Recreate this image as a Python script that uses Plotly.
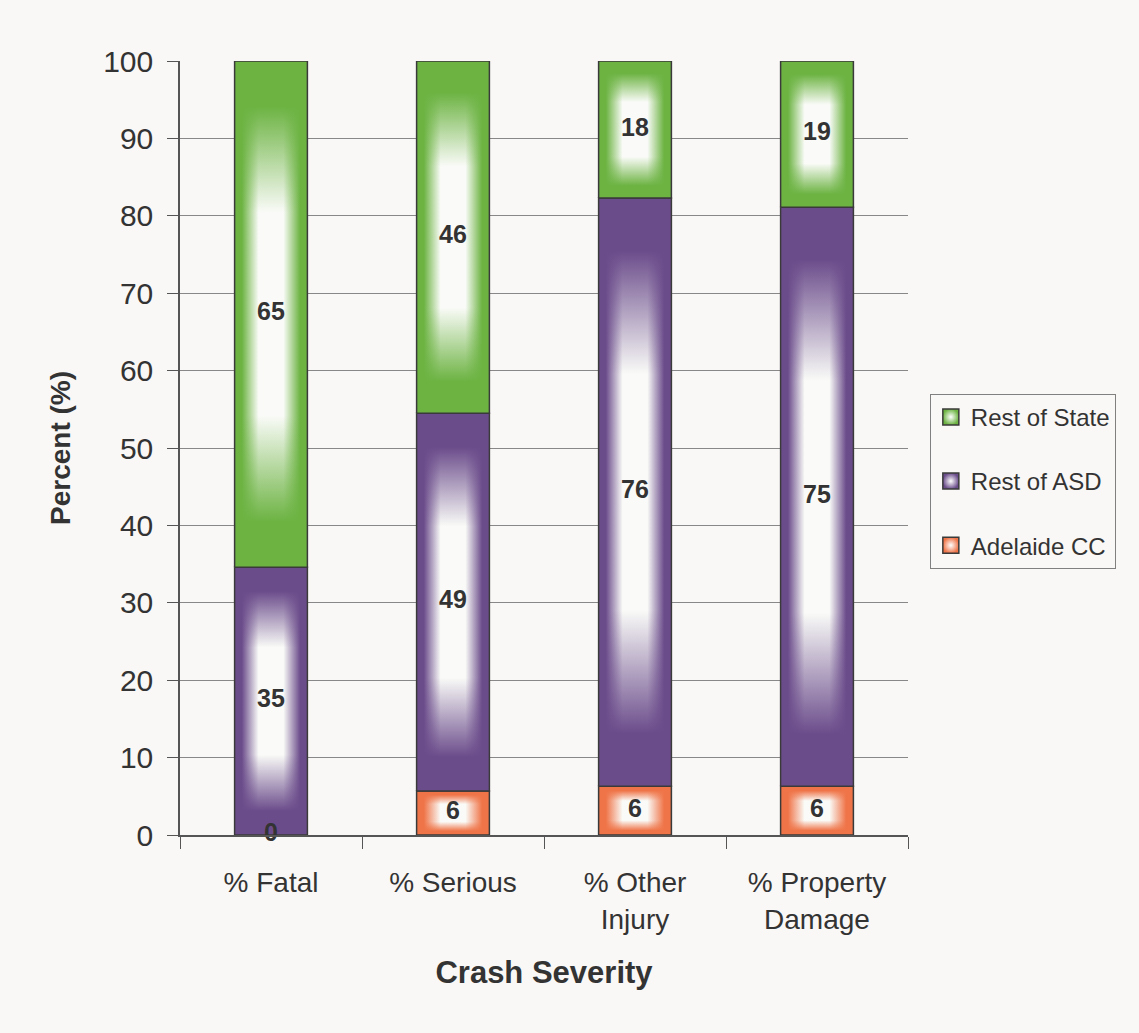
import plotly.graph_objects as go

# ---- data ----
categories = ['% Fatal', '% Serious', '% Other<br>Injury', '% Property<br>Damage']
adelaide_cc = [0.0, 5.7, 6.3, 6.3]
rest_of_asd = [34.6, 48.8, 76.0, 74.8]
rest_of_state = [65.4, 45.5, 17.7, 18.9]
series_names = ['Adelaide CC', 'Rest of ASD', 'Rest of State']
y_tick_values = [0, 10, 20, 30, 40, 50, 60, 70, 80, 90, 100]

# ---- style ----
colors = {
    'Adelaide CC': (239, 116, 72),
    'Rest of ASD': (107, 76, 139),
    'Rest of State': (108, 179, 66),
}
BG = '#f9f8f6'
TXT = '#333333'
FONT = 'Liberation Sans, Arial, sans-serif'
HALF_W = 0.2
OUTLINE = '#3a3a3a'
CENTER = 'rgba(250,251,248,1)'


def rgba(c, a):
    return f'rgba({c[0]},{c[1]},{c[2]},{a})'


fig = go.Figure()

# legend entries (small squares with centre gradient)
for name in ['Rest of State', 'Rest of ASD', 'Adelaide CC']:
    c = colors[name]
    fig.add_trace(go.Scatter(
        x=[None], y=[None], mode='markers', name=name, legendgroup=name,
        marker=dict(symbol='square', size=16, color=rgba(c, 1),
                    gradient=dict(type='radial', color='white'),
                    line=dict(color=OUTLINE, width=1.5)),
        hoverinfo='skip'))

values_by_series = [adelaide_cc, rest_of_asd, rest_of_state]
xs = list(range(len(categories)))
label_x, label_y, label_t = [], [], []

for i, xc in enumerate(xs):
    base = 0.0
    for name, vals in zip(series_names, values_by_series):
        v = vals[i]
        top = base + v
        c = colors[name]
        px = [xc - HALF_W, xc + HALF_W, xc + HALF_W, xc - HALF_W, xc - HALF_W]
        py = [base, base, top, top, base]
        # horizontal centre gradient
        fig.add_trace(go.Scatter(
            x=px, y=py, mode='lines', fill='toself', showlegend=False,
            line=dict(width=0, color=rgba(c, 0)),
            fillgradient=dict(type='horizontal', colorscale=[
                [0, rgba(c, 1)], [0.1, rgba(c, 1)], [0.33, CENTER],
                [0.67, CENTER], [0.9, rgba(c, 1)], [1, rgba(c, 1)]]),
            hoverinfo='skip'))
        # vertical centre gradient overlay + outline
        fig.add_trace(go.Scatter(
            x=px, y=py, mode='lines', fill='toself', showlegend=False,
            line=dict(width=1.5, color=OUTLINE),
            fillgradient=dict(type='vertical', colorscale=[
                [0, rgba(c, 1)], [0.09, rgba(c, 1)], [0.3, rgba(c, 0)],
                [0.7, rgba(c, 0)], [0.91, rgba(c, 1)], [1, rgba(c, 1)]]),
            hoverinfo='skip'))
        label_x.append(xc)
        label_y.append(base + v / 2)
        label_t.append(str(round(v)))
        base = top

fig.add_trace(go.Scatter(
    x=label_x, y=label_y, text=label_t, mode='text', showlegend=False,
    textposition='middle center', cliponaxis=False,
    textfont=dict(family=FONT, size=25, color=TXT, weight='bold'),
    hoverinfo='skip'))

fig.update_layout(
    width=1139, height=1033,
    margin=dict(l=180, r=231, t=61, b=198),
    paper_bgcolor=BG, plot_bgcolor=BG,
    font=dict(family=FONT, color=TXT, size=24),
    showlegend=True,
    legend=dict(
        x=1.03, xanchor='left', y=0.57, yanchor='top',
        bgcolor=BG, bordercolor='#808080', borderwidth=1,
        font=dict(family=FONT, size=24, color=TXT),
        traceorder='grouped', tracegroupgap=30,
    ),
    xaxis=dict(
        range=[-0.5, len(categories) - 0.5],
        tickmode='array', tickvals=xs, ticktext=categories,
        ticks='', ticklabelstandoff=22,
        showgrid=False, zeroline=False,
        showline=True, linecolor='#555555', linewidth=1.5,
        minor=dict(tickmode='array',
                   tickvals=[x - 0.5 for x in xs] + [xs[-1] + 0.5],
                   ticks='outside', ticklen=12, tickcolor='#555555', tickwidth=1),
        tickfont=dict(size=28, color=TXT),
        title=dict(text='Crash Severity', standoff=28,
                   font=dict(size=31, color=TXT, weight='bold')),
    ),
    yaxis=dict(
        range=[0, 100], tickmode='array', tickvals=y_tick_values,
        ticks='outside', ticklen=11, tickcolor='#555555', tickwidth=1,
        ticklabelstandoff=8,
        showgrid=True, gridcolor='#888888', gridwidth=1,
        zeroline=False,
        showline=True, linecolor='#555555', linewidth=1.5,
        tickfont=dict(size=30, color=TXT),
        title=dict(text='Percent (%)', standoff=24,
                   font=dict(size=28, color=TXT, weight='bold')),
    ),
)

fig.write_html('out.html',
               config={'displayModeBar': False},
               post_script="document.body.style.margin='0';"
                           "document.body.style.background='" + BG + "';")
